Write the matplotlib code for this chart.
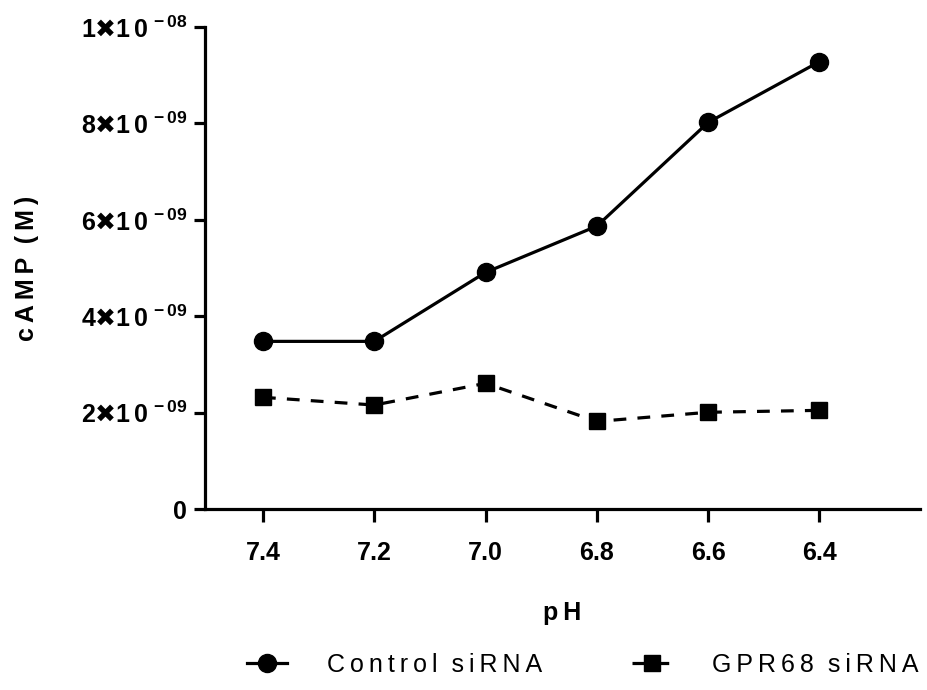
import matplotlib
matplotlib.use("Agg")
import matplotlib.pyplot as plt

plt.rcParams['font.family'] = ['Liberation Sans', 'DejaVu Sans']
plt.rcParams['mathtext.fontset'] = 'custom'
plt.rcParams['mathtext.rm'] = 'Liberation Sans:bold'
plt.rcParams['mathtext.it'] = 'Liberation Sans:bold'
plt.rcParams['mathtext.bf'] = 'Liberation Sans:bold'
plt.rcParams['mathtext.sf'] = 'DejaVu Sans:bold'

ph = [7.4, 7.2, 7.0, 6.8, 6.6, 6.4]
control = [3.48e-9, 3.48e-9, 4.91e-9, 5.87e-9, 8.02e-9, 9.28e-9]
gpr68 = [2.32e-9, 2.16e-9, 2.61e-9, 1.82e-9, 2.01e-9, 2.05e-9]
xticklabels = ['7.4', '7.2', '7.0', '6.8', '6.6', '6.4']
yticks = [0, 2e-9, 4e-9, 6e-9, 8e-9, 1e-8]
ymant = ['0', '2', '4', '6', '8', '1']
yexp = ['', '-09', '-09', '-09', '-09', '-08']


def ylab(m, e):
    if not e:
        return m
    return '$' + m + '\\mathsf{\u2716}1\\,0^{\\,' + e + '}$'


def spaced(s):
    return '\u2009'.join(s)


fig = plt.figure(figsize=(9.28, 6.9), dpi=100)
ax = fig.add_axes([0.221, 0.262, 0.77, 0.699])

ax.plot(ph, control, color='black', lw=2.3, marker='o', ms=13,
        label=spaced('Control') + '  ' + spaced('siRNA'))
ax.plot(ph, gpr68, color='black', lw=2.3, ls=(0, (4, 3.5)), marker='s', ms=12,
        label=spaced('GPR68') + '  ' + spaced('siRNA'))

ax.set_xlim(7.504, 6.22)
ax.set_ylim(0, 1e-8)
ax.set_xticks(ph)
ax.set_xticklabels(xticklabels, fontsize=18, fontweight='bold')
ax.set_yticks(yticks)
ax.set_yticklabels([ylab(m, e) for m, e in zip(ymant, yexp)], fontsize=18, fontweight='bold')

for side in ['top', 'right']:
    ax.spines[side].set_visible(False)
for side in ['left', 'bottom']:
    ax.spines[side].set_linewidth(2.3)
ax.tick_params(axis='x', length=9, width=2.3, pad=14)
ax.tick_params(axis='y', length=8, width=2.3, pad=5)

ax.set_xlabel(spaced('pH'), fontsize=18, fontweight='bold', labelpad=26)
ax.set_ylabel(spaced('cAMP') + '  ' + spaced('(M)'), fontsize=18, fontweight='bold', labelpad=30)

fig.legend(loc='center', bbox_to_anchor=(0.628, 0.036), ncol=2, frameon=False,
           fontsize=18, handlelength=1.6, columnspacing=3.6, handletextpad=1.6)

fig.savefig('out.png', dpi=100)
